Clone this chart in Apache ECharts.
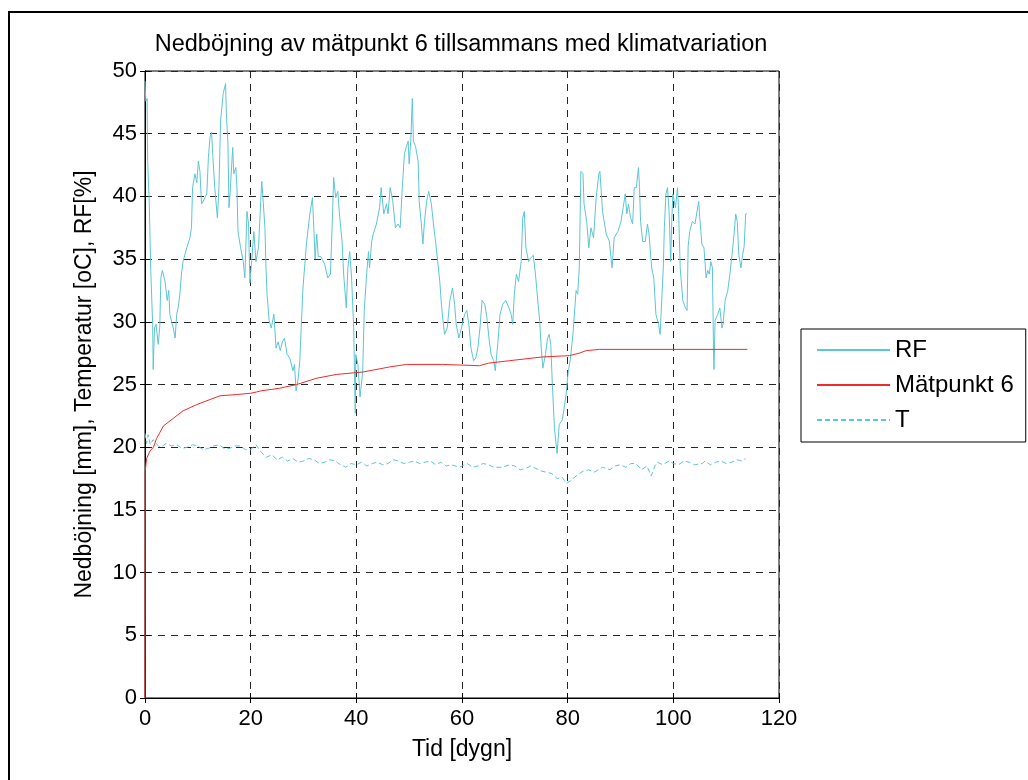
<!DOCTYPE html>
<html>
<head>
<meta charset="utf-8">
<script src="https://cdn.jsdelivr.net/npm/echarts@6/dist/echarts.min.js"></script>
<style>
  html, body { margin: 0; padding: 0; background: #ffffff; }
  #chart { width: 1028px; height: 780px; }
</style>
</head>
<body>
<div id="chart"></div>
<script>
// Relative humidity RF [%] over time [days]
const rfDays = [0, 0.15, 0.4, 0.5, 0.8, 1.1, 1.45, 1.55, 1.8, 2.1, 2.5, 2.8, 3.0, 3.3, 3.8, 4.2, 4.5, 4.7, 5.35, 5.7,
  6.0, 6.3, 6.6, 6.9, 7.2, 7.9, 8.5, 8.8, 9.0, 9.45, 9.8, 10.1, 10.4, 10.7, 11.0, 11.7, 12.0, 12.3, 12.6, 12.9,
  13.2, 13.7, 14.0, 14.3, 14.8, 15.25, 15.4, 15.7, 15.9, 16.1, 16.6, 16.8, 17.2, 17.4, 17.6, 18.1, 18.6, 18.9, 19.3, 19.6,
  19.85, 20.2, 20.6, 21.0, 21.5, 21.9, 22.1, 22.4, 22.7, 22.9, 23.1, 23.5, 23.9, 24.4, 24.8, 25.2, 25.6, 26.0, 26.4, 26.9,
  27.4, 28.0, 28.3, 28.6, 29.0, 29.3, 29.6, 29.9, 30.2, 30.6, 31.2, 31.7, 31.9, 32.0, 32.2, 32.5, 32.8, 33.3, 34.0, 34.6,
  35.1, 35.5, 35.7, 36.1, 36.5, 36.8, 37.3, 37.6, 38.1, 38.4, 38.75, 39.1, 39.5, 39.8, 39.9, 40.3, 40.7, 41.2, 41.5, 41.9,
  42.3, 42.5, 42.9, 43.2, 43.8, 44.4, 44.7, 45.2, 45.7, 46.0, 46.4, 46.9, 47.4, 47.9, 48.3, 48.7, 49.1, 49.5, 49.8, 50.0,
  50.3, 50.6, 50.8, 51.2, 51.7, 51.9, 52.3, 52.6, 52.9, 53.3, 53.7, 54.2, 54.6, 55.0, 55.4, 55.8, 56.1, 56.4, 56.7, 57.2,
  57.7, 58.2, 58.6, 58.9, 59.4, 59.9, 60.5, 60.9, 61.3, 61.7, 62.2, 62.6, 63.0, 63.4, 63.8, 64.3, 64.7, 65.1, 65.5, 66.0,
  66.3, 66.8, 67.2, 67.7, 68.3, 68.9, 69.3, 69.6, 69.9, 70.3, 70.7, 71.2, 71.5, 71.8, 72.1, 72.6, 73.0, 73.5, 73.9, 74.4,
  74.7, 75.0, 75.3, 75.8, 76.2, 76.5, 76.8, 77.1, 77.5, 78.0, 78.4, 79.0, 79.7, 80.1, 80.5, 81.0, 81.6, 81.9, 82.2, 82.5,
  82.9, 83.1, 83.6, 84.0, 84.4, 84.9, 85.4, 85.9, 86.1, 86.6, 87.3, 87.9, 88.4, 88.8, 89.5, 90.1, 90.5, 90.9, 91.2, 91.5,
  91.9, 92.3, 92.6, 93.0, 93.4, 93.6, 93.8, 94.2, 94.7, 95.1, 95.4, 95.9, 96.3, 96.7, 97.2, 97.5, 97.8, 98.1, 98.3, 98.6,
  98.9, 99.2, 99.5, 99.7, 99.9, 100.4, 100.8, 101.0, 101.3, 101.8, 102.3, 102.6, 102.8, 103.1, 103.6, 104.1, 104.4, 104.8, 105.0, 105.4,
  105.8, 106.2, 106.5, 106.8, 107.1, 107.4, 107.6, 107.7, 107.9, 108.4, 108.8, 109.2, 109.4, 109.8, 110.3, 110.7, 111.1, 111.5, 111.8, 112.1,
  112.4, 112.8, 113.1, 113.4, 113.7, 113.9];
const rfValues = [49.2, 47.6, 47.8, 42.8, 39.6, 34.0, 29.8, 26.2, 29.5, 29.8, 28.2, 29.6, 33.5, 34.1, 33.2, 31.7, 32.5, 30.6, 29.5, 28.7,
  30.6, 31.2, 32.2, 33.8, 34.8, 35.9, 36.7, 37.5, 40.7, 41.8, 41.1, 42.8, 42.0, 39.4, 39.6, 40.2, 43.1, 44.7, 45.1, 42.8,
  40.7, 38.3, 40.7, 46.0, 48.2, 49.0, 46.6, 44.2, 39.1, 40.2, 43.9, 41.8, 42.3, 40.7, 37.2, 35.9, 34.8, 33.5, 38.8, 37.8,
  33.1, 34.9, 37.2, 34.8, 36.0, 39.6, 41.2, 39.4, 37.5, 34.3, 32.2, 30.1, 29.5, 30.6, 27.9, 28.4, 27.7, 28.4, 28.7, 27.4,
  27.1, 26.1, 26.6, 24.5, 25.5, 26.9, 29.9, 32.7, 34.3, 36.4, 38.6, 39.9, 39.9, 37.0, 35.0, 37.0, 35.2, 35.2, 34.6, 33.5,
  33.8, 38.6, 41.5, 39.9, 40.4, 38.6, 36.4, 33.8, 31.1, 34.3, 35.6, 33.5, 29.5, 22.7, 27.4, 26.6, 24.0, 26.0, 30.9, 33.5,
  35.6, 34.3, 36.4, 37.0, 37.8, 39.1, 40.7, 38.6, 39.4, 38.6, 40.7, 39.6, 37.5, 37.8, 37.5, 40.7, 43.4, 44.0, 44.4, 42.6,
  44.4, 47.8, 44.4, 44.0, 42.8, 39.6, 37.8, 36.2, 38.0, 39.6, 40.4, 39.4, 37.8, 36.4, 34.8, 33.2, 31.4, 30.1, 29.0, 29.5,
  31.7, 32.7, 31.4, 29.8, 28.7, 29.5, 30.6, 30.9, 29.8, 27.9, 26.9, 27.1, 27.9, 29.5, 31.7, 31.4, 30.4, 28.7, 27.4, 26.9,
  26.1, 28.4, 30.6, 31.4, 31.7, 31.1, 30.6, 29.8, 32.2, 33.8, 33.2, 34.8, 38.3, 38.8, 35.9, 34.8, 35.1, 35.3, 33.8, 31.4,
  30.1, 27.9, 26.3, 27.4, 28.7, 29.0, 28.2, 25.0, 21.5, 19.5, 21.8, 22.2, 24.2, 26.0, 27.0, 29.0, 32.5, 32.2, 34.3, 42.0,
  41.8, 39.4, 38.0, 35.9, 37.5, 36.7, 39.9, 41.8, 42.0, 38.8, 37.0, 36.4, 34.3, 36.7, 37.2, 38.0, 39.1, 40.2, 38.6, 39.4,
  38.3, 37.8, 40.7, 40.7, 42.3, 40.7, 38.0, 36.4, 36.4, 37.8, 37.0, 34.3, 33.5, 30.6, 29.8, 29.0, 31.7, 34.3, 37.5, 40.2,
  40.7, 38.8, 34.8, 38.0, 40.2, 39.1, 40.7, 38.8, 34.3, 31.7, 31.1, 30.9, 36.0, 37.2, 38.0, 37.8, 38.6, 39.6, 38.3, 36.2,
  35.9, 33.5, 34.1, 33.8, 34.8, 34.3, 27.9, 26.2, 30.1, 30.6, 31.1, 29.5, 29.8, 31.7, 32.5, 33.8, 35.3, 37.0, 38.6, 38.0,
  35.3, 34.3, 35.3, 36.0, 38.6, 38.6];

// Deflection of measuring point 6 [mm]
const mpDays = [0, 0.05, 0.3, 0.95, 1.6, 2.2, 3.5, 5.35, 7.2, 9.8, 12.3, 14.2, 17.3, 20.0, 21.1, 22.0, 25.5, 28.7, 32.5, 36.2,
  41.3, 46.3, 49.5, 56.3, 56.5, 63.3, 65.0, 69.0, 75.3, 80.3, 82.2, 83.5, 86.0, 114.0];
const mpValues = [0, 18.1, 19.1, 19.7, 20.0, 20.7, 21.7, 22.3, 22.9, 23.4, 23.8, 24.1, 24.2, 24.3, 24.4, 24.5, 24.7, 25.0, 25.5, 25.8,
  26.0, 26.4, 26.6, 26.6, 26.5, 26.5, 26.7, 26.9, 27.2, 27.3, 27.5, 27.7, 27.8, 27.8];

// Temperature T [oC]
const tDays = [0, 0.3, 0.6, 1, 1.5, 2, 2.5, 3, 4, 5, 6, 7, 8, 9, 10, 11, 12, 13, 14, 15,
  16, 17, 18, 19, 20, 21, 22, 23, 24, 25, 26, 27, 28, 29, 30, 31, 32, 33, 34, 35,
  36, 37, 38, 39, 40, 41, 42, 43, 44, 45, 46, 47, 48, 49, 50, 51, 52, 53, 54, 55,
  56, 57, 58, 59.5, 61, 62, 63, 64, 65, 66, 67.7, 69, 70, 71, 72, 73, 74, 75, 76, 77,
  78, 79, 79.7, 80.5, 81, 82.2, 83, 84, 85, 86.6, 88, 89, 90, 91, 92, 92.9, 94, 95, 95.8, 96.5,
  97, 98, 99.2, 100, 101, 102, 103, 104, 105.5, 106, 107, 108, 109, 110, 111, 112, 113, 113.7];
const tValues = [21.1, 20.3, 21.0, 20.2, 20.6, 20.4, 20.1, 20.0, 20.3, 20.1, 20.2, 19.9, 20.0, 20.2, 20.1, 19.8, 19.9, 20.1, 20.2, 19.9,
  19.9, 20.1, 20.1, 19.8, 19.8, 20.2, 19.6, 19.2, 19.4, 19.0, 19.2, 18.9, 19.1, 18.8, 18.9, 19.1, 19.0, 18.7, 18.8, 19.0,
  18.9, 18.6, 18.4, 18.7, 18.6, 18.8, 18.5, 18.7, 18.8, 18.6, 18.7, 19.0, 18.9, 18.7, 18.8, 18.9, 18.7, 18.8, 18.9, 18.6,
  18.8, 18.5, 18.6, 18.4, 18.7, 18.4, 18.5, 18.7, 18.6, 18.4, 18.4, 18.6, 18.5, 18.2, 18.3, 18.5, 18.3, 18.1, 18.0, 17.9,
  17.5, 17.6, 17.1, 17.3, 17.5, 17.9, 18.1, 18.2, 18.0, 18.4, 18.2, 18.5, 18.6, 18.4, 18.7, 18.7, 18.2, 18.5, 17.7, 18.5,
  18.8, 18.6, 18.9, 18.7, 18.6, 18.9, 18.8, 18.6, 18.7, 18.9, 18.6, 18.8, 18.9, 18.7, 18.8, 19.0, 18.9, 19.1];

const xTicks = [0, 20, 40, 60, 80, 100, 120];
const yTicks = [0, 5, 10, 15, 20, 25, 30, 35, 40, 45, 50];

const zip = (xs, ys) => xs.map((x, i) => [x, ys[i]]);

const FONT = "'Liberation Sans', Arial, Helvetica, sans-serif";
const CYAN = '#5cc6d4';
const RED = '#f02a2a';

const chart = echarts.init(document.getElementById('chart'));
const grid = { left: 145, top: 71, width: 634, height: 627 };

chart.setOption({
  backgroundColor: '#ffffff',
  animation: false,
  textStyle: { fontFamily: FONT, color: '#000' },
  grid: Object.assign({ show: true, borderColor: '#000', borderWidth: 1, backgroundColor: '#fff' }, grid),
  graphic: [
    {
      type: 'rect', silent: true, z: -1,
      shape: { x: 9, y: 12, width: 1200, height: 1000 },
      style: { fill: null, stroke: '#000', lineWidth: 2 }
    },
    {
      type: 'text', silent: true,
      x: 461, y: 45,
      style: {
        text: 'Nedböjning av mätpunkt 6 tillsammans med klimatvariation',
        font: '23.5px ' + FONT, fill: '#000', align: 'center', verticalAlign: 'middle'
      }
    }
  ],
  legend: {
    orient: 'vertical',
    left: 801, top: 329,
    backgroundColor: '#fff',
    borderColor: '#000', borderWidth: 1, borderRadius: 0,
    padding: [9, 12, 10, 15],
    itemWidth: 73, itemHeight: 20, itemGap: 11,
    itemStyle: { opacity: 0 },
    textStyle: { fontFamily: FONT, fontSize: 24, color: '#000' },
    data: ['RF', 'Mätpunkt 6', 'T']
  },
  xAxis: [
    {
      type: 'value', min: 0, max: 120, interval: 20,
      name: 'Tid [dygn]', nameLocation: 'middle', nameGap: 40,
      nameTextStyle: { fontFamily: FONT, fontSize: 23, color: '#000' },
      axisLine: { show: true, lineStyle: { color: '#000', width: 1 } },
      axisTick: { show: true, inside: true, length: 5, lineStyle: { color: '#000' } },
      axisLabel: { fontFamily: FONT, fontSize: 22, color: '#000', margin: 10,
        formatter: v => (xTicks.includes(v) ? String(v) : '') },
      splitLine: { show: true, lineStyle: { color: '#262626', width: 1, type: [7, 6] } }
    },
    {
      type: 'value', position: 'top', min: 0, max: 120, interval: 20,
      axisLine: { show: true, lineStyle: { color: '#000' } },
      axisTick: { show: true, inside: true, length: 5, lineStyle: { color: '#000' } },
      axisLabel: { show: false }, splitLine: { show: false }
    }
  ],
  yAxis: [
    {
      type: 'value', min: 0, max: 50, interval: 5,
      name: 'Nedböjning [mm], Temperatur [oC], RF[%]', nameLocation: 'middle', nameGap: 49,
      nameTextStyle: { fontFamily: FONT, fontSize: 23, color: '#000' },
      axisLine: { show: true, lineStyle: { color: '#000', width: 1 } },
      axisTick: { show: true, inside: true, length: 5, lineStyle: { color: '#000' } },
      axisLabel: { fontFamily: FONT, fontSize: 22, color: '#000', margin: 8,
        formatter: v => (yTicks.includes(v) ? String(v) : '') },
      splitLine: { show: true, lineStyle: { color: '#262626', width: 1, type: [7, 6] } }
    },
    {
      type: 'value', position: 'right', min: 0, max: 50, interval: 5,
      axisLine: { show: true, lineStyle: { color: '#000' } },
      axisTick: { show: true, inside: true, length: 5, lineStyle: { color: '#000' } },
      axisLabel: { show: false }, splitLine: { show: false }
    }
  ],
  series: [
    {
      name: 'RF', type: 'line', data: zip(rfDays, rfValues),
      symbol: 'none', lineStyle: { color: CYAN, width: 1 }, itemStyle: { color: CYAN }, z: 3
    },
    {
      name: 'Mätpunkt 6', type: 'line', data: zip(mpDays, mpValues),
      symbol: 'none', lineStyle: { color: RED, width: 1 }, itemStyle: { color: RED }, z: 4
    },
    {
      name: 'T', type: 'line', data: zip(tDays, tValues),
      symbol: 'none', lineStyle: { color: CYAN, width: 1, type: [5, 3] }, itemStyle: { color: CYAN }, z: 3
    }
  ]
});
</script>
</body>
</html>
